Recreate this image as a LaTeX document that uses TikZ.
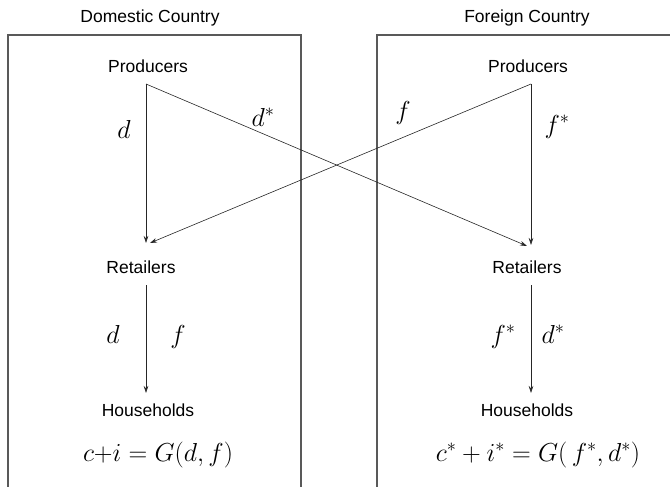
\documentclass[tikz,border=0pt]{standalone}
\usepackage{fix-cm}
\usepackage{fontspec}
\setmainfont{Liberation Sans}
\usepackage{amsmath}
\usetikzlibrary{arrows.meta}

\tikzset{
  lbl/.style={inner sep=0pt, anchor=base, font=\fontsize{17.5}{20}\selectfont},
  sym/.style={inner sep=0pt, anchor=base, font=\fontsize{26}{30}\selectfont},
  flow/.style={draw=black!85, line width=0.6pt, -{Stealth[length=7pt,width=4.5pt]}},
  frame/.style={draw=black!65, line width=1.2pt}
}

\begin{document}
\begin{tikzpicture}[x=1pt, y=-1pt]
                \useasboundingbox (0,0) rectangle (670,487);

                % Frames
                \draw[frame] (8,487) -- (8,35) -- (301,35) -- (301,487);
                \draw[frame] (377,487) -- (377,35) -- (672,35);

                % Nodes
                \node[lbl] (dtitle) at (150,23) {Domestic Country};
                \node[lbl] (ftitle) at (527,23) {Foreign Country};
                \node[lbl] (dprod) at (148,73) {Producers};
                \node[lbl] (fprod) at (528,73) {Producers};
                \node[lbl] (dret) at (141,273) {Retailers};
                \node[lbl] (fret) at (527,273) {Retailers};
                \node[lbl] (dhouse) at (148,416) {Households};
                \node[lbl] (fhouse) at (527,416) {Households};
                \node[sym] (deq) at (158,461) {$c{+}i = G(d,f)$};
                \node[sym] (feq) at (538,461) {$c^*+i^* = G(\,f^*,d^*)$};

                % Labels
                \node[sym] (dd) at (124,139) {$d$};
                \node[sym] (dds) at (263,126) {$d^*$};
                \node[sym] (ff) at (403,119) {$f$};
                \node[sym] (ffs) at (557,133) {$f^*$};
                \node[sym] (hd) at (113,343) {$d$};
                \node[sym] (hf) at (178,343) {$f$};
                \node[sym] (hfs) at (503,343) {$f^*$};
                \node[sym] (hds) at (553,343) {$d^*$};

                % Ends
                \coordinate (dsrc) at (146,84);
                \coordinate (fsrc) at (531,84);
                \coordinate (dtip) at (146,243);
                \coordinate (dtipx) at (150,243);
                \coordinate (ftip) at (531,245);
                \coordinate (ftipx) at (527,246);
                \coordinate (dout) at (146,285);
                \coordinate (fout) at (531,285);
                \coordinate (din) at (146,393);
                \coordinate (fin) at (531,393);

                % Edges
                \draw[flow] (dsrc)--(dtip);
                \draw[flow] (dsrc)--(ftipx);
                \draw[flow] (fsrc)--(ftip);
                \draw[flow] (fsrc)--(dtipx);
                \draw[flow] (dout)--(din);
                \draw[flow] (fout)--(fin);
            \end{tikzpicture}
\end{document}
